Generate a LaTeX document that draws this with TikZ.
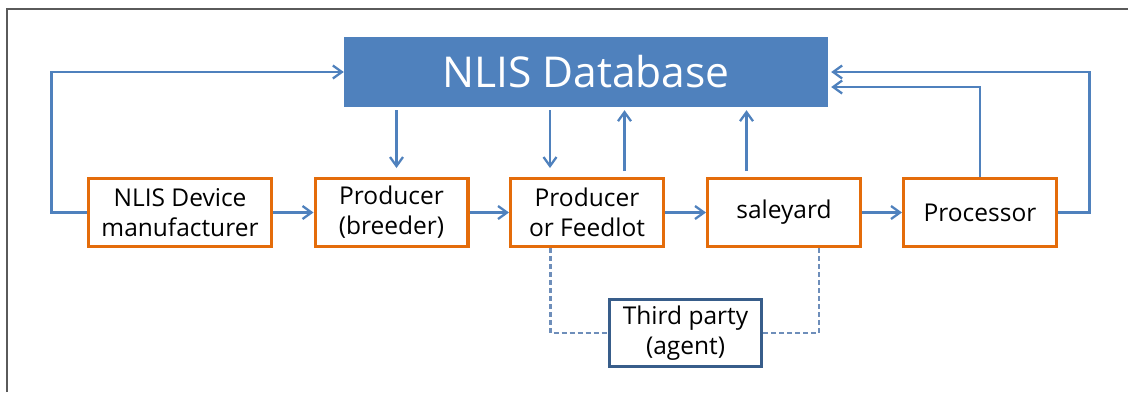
\documentclass[tikz,border=0pt]{standalone}
\usepackage{fontspec}
\setmainfont{Open Sans}
\usetikzlibrary{arrows.meta,calc}
\definecolor{dbblue}{RGB}{79,129,189}
\definecolor{lineblue}{RGB}{79,129,189}
\definecolor{boxorange}{RGB}{228,108,10}
\definecolor{agentblue}{RGB}{56,93,138}
\definecolor{dashblue}{RGB}{110,142,186}
\definecolor{framegray}{RGB}{90,90,90}

\begin{document}
\begin{tikzpicture}[x=1pt,y=-1pt,
  party/.style={draw=boxorange,line width=3.4pt,fill=white,minimum width=152.6pt,minimum height=67.6pt,
    align=center,inner sep=0pt,font=\fontsize{24.5}{30}\selectfont},
  agentbox/.style={party,draw=agentblue,minimum width=151.6pt,minimum height=66.6pt},
  flow/.style={draw=lineblue,line width=2.3pt,-{Straight Barb[length=9pt,width=13pt]}},
  link/.style={draw=dashblue,line width=2.2pt,dash pattern=on 5pt off 3pt}]
  \useasboundingbox (0,0) rectangle (1128,392);
  \draw[framegray,line width=1.4pt] (7,392) -- (7,9) -- (1128,9);

  \node[fill=dbblue,minimum width=484pt,minimum height=70pt,text=white,
    font=\fontsize{42.5}{50}\selectfont] (db) at (586,72) {NLIS Database};

  \node[party,minimum width=182.6pt] (dev) at (180,212.5) {NLIS Device\\manufacturer};
  \node[party] (brd) at (391.5,212.5) {Producer\\(breeder)};
  \node[party] (fdl) at (587,212.5) {Producer\\or Feedlot};
  \node[party] (sale) at (784,212.5) {saleyard};
  \node[party] (proc) at (980,212.5) {Processor};
  \node[agentbox] (agent) at (685.5,333) {Third party\\(agent)};

  \draw[flow] (dev) -- (brd);
  \draw[flow] (brd) -- (fdl);
  \draw[flow] (fdl) -- (sale);
  \draw[flow] (sale) -- (proc);

  \draw[flow,shorten <=3pt,shorten >=9pt] ($(db.south -| brd)+(5,0)$) -- ($(brd.north)+(5,0)$);
  \draw[flow,shorten <=3pt,shorten >=9pt] ($(db.south -| fdl)+(-37,0)$) -- ($(fdl.north)+(-37,0)$);
  \draw[flow,shorten <=6pt,shorten >=3pt] ($(fdl.north)+(37.5,0)$) -- ($(db.south -| fdl)+(37.5,0)$);
  \draw[flow,shorten <=6pt,shorten >=3pt] ($(sale.north)+(-37.5,0)$) -- ($(db.south -| sale)+(-37.5,0)$);

  \draw[flow] (dev.west) -- ++(-35.5,0) |- (db.west);
  \draw[flow,shorten >=3pt] (proc.east) -- ++(31.5,0) |- (db.east);
  \draw[flow,shorten >=3pt] (proc.north) |- ($(db.east)+(0,15)$);

  \draw[link] ($(fdl.south)+(-36.5,0)$) |- (agent.west);
  \draw[link] ($(sale.south)+(35,0)$) |- (agent.east);
\end{tikzpicture}
\end{document}
